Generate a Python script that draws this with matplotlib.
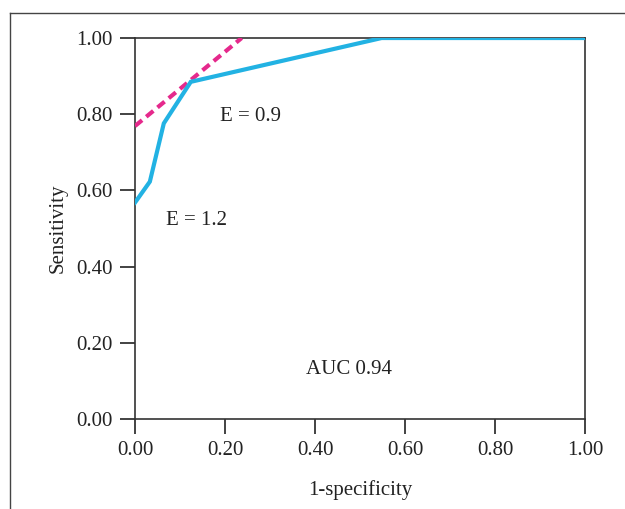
import matplotlib
matplotlib.use("Agg")
import matplotlib.pyplot as plt
from matplotlib.lines import Line2D

plt.rcParams['font.family'] = ['Liberation Serif', 'DejaVu Serif']

# ROC curve
fpr = [0.0, 0.033, 0.064, 0.124, 0.548, 1.0]
tpr = [0.568, 0.623, 0.776, 0.885, 1.0, 1.0]
# tangent (dashed) line
tan_x = [0.0, 0.237]
tan_y = [0.769, 1.0]
ticks = [0.0, 0.2, 0.4, 0.6, 0.8, 1.0]
tick_labels = ["0.00", "0.20", "0.40", "0.60", "0.80", "1.00"]

fig = plt.figure(figsize=(6.25, 5.09), dpi=100)
ax = fig.add_axes([0.216, 0.1768, 0.72, 0.7485])

ax.plot(tan_x, tan_y, color='#e5298c', lw=3, linestyle=(0, (2.2, 1.3)), solid_capstyle='butt', zorder=3)
ax.plot(fpr, tpr, color='#22b2e3', lw=3, zorder=4, solid_joinstyle='miter')

ax.set_xlim(0, 1)
ax.set_ylim(0, 1)
ax.set_xticks(ticks)
ax.set_xticklabels(tick_labels)
ax.set_yticks(ticks)
ax.set_yticklabels(tick_labels)
ax.tick_params(direction='out', length=11, width=1.2, labelsize=15, colors='#222222', pad=5)
for s in ax.spines.values():
    s.set_linewidth(1.2)
    s.set_color('#333333')

ax.set_xlabel('1-specificity', fontsize=15, color='#222222', labelpad=14)
ax.set_ylabel('Sensitivity', fontsize=15, color='#222222', labelpad=6)

ax.text(0.19, 0.795, 'E = 0.9', fontsize=15, color='#222222', va='center')
ax.text(0.07, 0.521, 'E = 1.2', fontsize=15, color='#222222', va='center')
ax.text(0.38, 0.13, 'AUC 0.94', fontsize=15, color='#222222', va='center')

x0 = 10 / 625
y0 = 1 - 13 / 509
fig.add_artist(Line2D([x0, 1.0], [y0, y0], transform=fig.transFigure, color='#444444', lw=1.0))
fig.add_artist(Line2D([x0, x0], [0, y0], transform=fig.transFigure, color='#444444', lw=1.0))

fig.savefig('out.png', dpi=100)
